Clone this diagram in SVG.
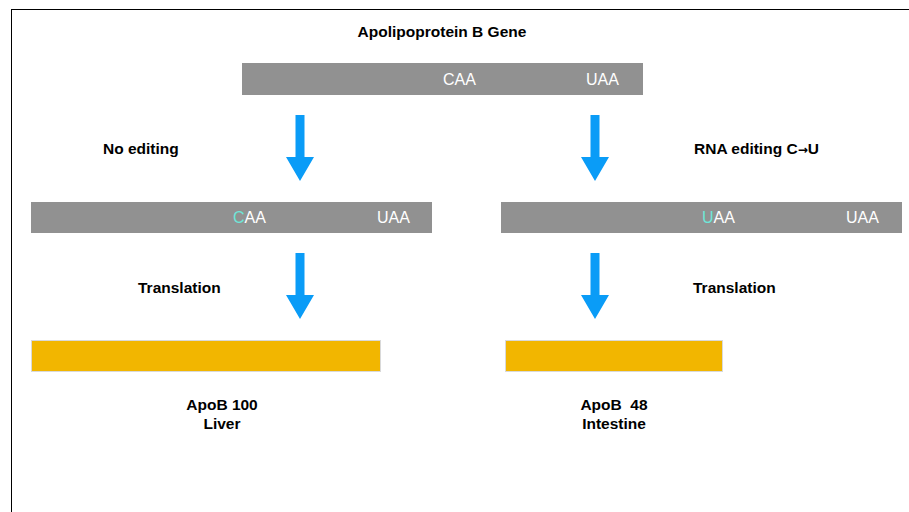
<svg xmlns="http://www.w3.org/2000/svg" width="909" height="512" viewBox="0 0 909 512">
<defs>
<style>
.lbl{font-family:"Liberation Sans",Arial,sans-serif;font-weight:bold;font-size:15.5px;fill:#000}
.cod{font-family:"Liberation Sans",Arial,sans-serif;font-size:16px;fill:#fff}
.ed{fill:#6EE6D8}
.sym{font-family:"DejaVu Sans",sans-serif;font-size:12px}
.bar{fill:#919191}
.prot{fill:#F2B600;stroke:#d9d9d9;stroke-width:1}
.arr{fill:#0A9CF7}
</style>
<path id="arrow" d="M-4.5,-66 H4.5 V-24 H14 L0,0 L-14,-24 H-4.5 Z"/>
</defs>
<rect width="909" height="512" fill="#fff"/>
<rect x="11.5" y="9.5" width="920" height="520" fill="none" stroke="#000" stroke-width="1"/>
<g id="title"><text class="lbl" x="442" y="37" text-anchor="middle">Apolipoprotein B Gene</text></g>
<g id="gene">
<rect class="bar" x="242" y="63" width="401" height="32"/>
<text class="cod" x="443" y="85">CAA</text>
<text class="cod" x="586" y="85">UAA</text>
</g>
<g id="label-no-editing"><text class="lbl" x="103" y="154">No editing</text></g>
<g id="label-rna-editing"><text class="lbl" x="694" y="154">RNA editing C<tspan class="sym">→</tspan>U</text></g>
<g id="mrna-left">
<rect class="bar" x="31" y="202" width="401" height="31"/>
<text class="cod" x="233" y="223"><tspan class="ed">C</tspan>AA</text>
<text class="cod" x="377" y="223">UAA</text>
</g>
<g id="mrna-right">
<rect class="bar" x="501" y="202" width="401" height="31"/>
<text class="cod" x="702" y="223"><tspan class="ed">U</tspan>AA</text>
<text class="cod" x="846" y="223">UAA</text>
</g>
<g id="label-translation-left"><text class="lbl" x="138" y="293">Translation</text></g>
<g id="label-translation-right"><text class="lbl" x="693" y="293">Translation</text></g>
<g id="protein-left">
<rect class="prot" x="31.5" y="340.5" width="349" height="31"/>
<text class="lbl" x="222" y="410" text-anchor="middle">ApoB 100</text>
<text class="lbl" x="222" y="429" text-anchor="middle">Liver</text>
</g>
<g id="protein-right">
<rect class="prot" x="505.5" y="340.5" width="217" height="31"/>
<text class="lbl" x="614" y="410" text-anchor="middle" xml:space="preserve">ApoB  48</text>
<text class="lbl" x="614" y="429" text-anchor="middle">Intestine</text>
</g>
<g id="connectors">
<use href="#arrow" class="arr" x="300" y="181"/>
<use href="#arrow" class="arr" x="595" y="181"/>
<use href="#arrow" class="arr" x="300" y="319"/>
<use href="#arrow" class="arr" x="595" y="319"/>
</g>
</svg>
